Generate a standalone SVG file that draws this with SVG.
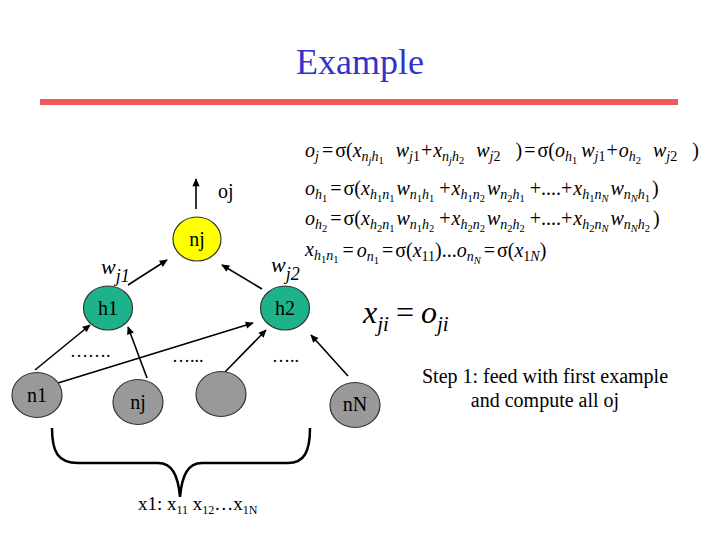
<svg xmlns="http://www.w3.org/2000/svg" width="720" height="540" viewBox="0 0 720 540">
<style>
text{font-family:"Liberation Serif","Times New Roman",serif;fill:#000}
.title{font-size:36px;fill:#3333cc}
.lbl{font-size:18px}
.nl{font-size:20px}
.eq{font-size:20px}
.v{font-style:italic}
.s{font-size:14px}
.ss{font-size:10.5px}
.yel{fill:#ffff00;stroke:#333;stroke-width:1.2}
.grn{fill:#1cb38b;stroke:#333;stroke-width:1.2}
.gry{fill:#999999;stroke:#333;stroke-width:1.2}
.con line{stroke:#000;stroke-width:1.6;marker-end:url(#ah)}
</style>
<defs>
<marker id="ah" viewBox="0 0 10 10" refX="9" refY="5" markerWidth="9" markerHeight="8" orient="auto" markerUnits="userSpaceOnUse"><path d="M0,0.5 L10,5 L0,9.5 z" fill="#000"/></marker>
</defs>
<rect width="720" height="540" fill="#fff"/>
<text class="title" x="360" y="74" text-anchor="middle">Example</text>
<rect x="40" y="99" width="638" height="6" fill="#f05a5a"/>

<g id="equations">
<text class="eq" x="305" y="157"><tspan class="v">o</tspan><tspan class="v s" dy="4">j</tspan><tspan dy="-4" dx="3">=</tspan><tspan dx="2">σ(</tspan><tspan class="v">x</tspan><tspan class="v s" dy="4">n</tspan><tspan class="v ss" dy="3">j</tspan><tspan class="v s" dy="-3">h</tspan><tspan class="ss" dy="3">1</tspan><tspan class="v" dy="-7" dx="12">w</tspan><tspan class="v s" dy="4">j</tspan><tspan class="s">1</tspan><tspan dy="-4" dx="1">+</tspan><tspan class="v" dx="1">x</tspan><tspan class="v s" dy="4">n</tspan><tspan class="v ss" dy="3">j</tspan><tspan class="v s" dy="-3">h</tspan><tspan class="ss" dy="3">2</tspan><tspan class="v" dy="-7" dx="12">w</tspan><tspan class="v s" dy="4">j</tspan><tspan class="s">2</tspan><tspan dy="-4" dx="15">)</tspan><tspan dx="2">=</tspan><tspan dx="2">σ(</tspan><tspan class="v">o</tspan><tspan class="v s" dy="4">h</tspan><tspan class="ss" dy="3">1</tspan><tspan class="v" dy="-7" dx="4">w</tspan><tspan class="v s" dy="4">j</tspan><tspan class="s">1</tspan><tspan dy="-4" dx="1">+</tspan><tspan class="v" dx="1">o</tspan><tspan class="v s" dy="4">h</tspan><tspan class="ss" dy="3">2</tspan><tspan class="v" dy="-7" dx="12">w</tspan><tspan class="v s" dy="4">j</tspan><tspan class="s">2</tspan><tspan dy="-4" dx="15">)</tspan></text>
<text class="eq" x="305" y="195"><tspan class="v">o</tspan><tspan class="v s" dy="4">h</tspan><tspan class="ss" dy="3">1</tspan><tspan dy="-7" dx="3">=</tspan><tspan dx="2">σ(</tspan><tspan class="v">x</tspan><tspan class="v s" dy="4">h</tspan><tspan class="ss" dy="3">1</tspan><tspan class="v s" dy="-3">n</tspan><tspan class="ss" dy="3">1</tspan><tspan class="v" dy="-7" dx="2">w</tspan><tspan class="v s" dy="4">n</tspan><tspan class="ss" dy="3">1</tspan><tspan class="v s" dy="-3">h</tspan><tspan class="ss" dy="3">1</tspan><tspan dy="-7" dx="5">+</tspan><tspan class="v" dx="1">x</tspan><tspan class="v s" dy="4">h</tspan><tspan class="ss" dy="3">1</tspan><tspan class="v s" dy="-3">n</tspan><tspan class="ss" dy="3">2</tspan><tspan class="v" dy="-7" dx="2">w</tspan><tspan class="v s" dy="4">n</tspan><tspan class="ss" dy="3">2</tspan><tspan class="v s" dy="-3">h</tspan><tspan class="ss" dy="3">1</tspan><tspan dy="-7" dx="5">+....+</tspan><tspan class="v" dx="1">x</tspan><tspan class="v s" dy="4">h</tspan><tspan class="ss" dy="3">1</tspan><tspan class="v s" dy="-3">n</tspan><tspan class="v ss" dy="3">N</tspan><tspan class="v" dy="-7" dx="2">w</tspan><tspan class="v s" dy="4">n</tspan><tspan class="v ss" dy="3">N</tspan><tspan class="v s" dy="-3">h</tspan><tspan class="ss" dy="3">1</tspan><tspan dy="-7" dx="2">)</tspan></text>
<text class="eq" x="305" y="225"><tspan class="v">o</tspan><tspan class="v s" dy="4">h</tspan><tspan class="ss" dy="3">2</tspan><tspan dy="-7" dx="3">=</tspan><tspan dx="2">σ(</tspan><tspan class="v">x</tspan><tspan class="v s" dy="4">h</tspan><tspan class="ss" dy="3">2</tspan><tspan class="v s" dy="-3">n</tspan><tspan class="ss" dy="3">1</tspan><tspan class="v" dy="-7" dx="2">w</tspan><tspan class="v s" dy="4">n</tspan><tspan class="ss" dy="3">1</tspan><tspan class="v s" dy="-3">h</tspan><tspan class="ss" dy="3">2</tspan><tspan dy="-7" dx="5">+</tspan><tspan class="v" dx="1">x</tspan><tspan class="v s" dy="4">h</tspan><tspan class="ss" dy="3">2</tspan><tspan class="v s" dy="-3">n</tspan><tspan class="ss" dy="3">2</tspan><tspan class="v" dy="-7" dx="2">w</tspan><tspan class="v s" dy="4">n</tspan><tspan class="ss" dy="3">2</tspan><tspan class="v s" dy="-3">h</tspan><tspan class="ss" dy="3">2</tspan><tspan dy="-7" dx="5">+....+</tspan><tspan class="v" dx="1">x</tspan><tspan class="v s" dy="4">h</tspan><tspan class="ss" dy="3">2</tspan><tspan class="v s" dy="-3">n</tspan><tspan class="v ss" dy="3">N</tspan><tspan class="v" dy="-7" dx="2">w</tspan><tspan class="v s" dy="4">n</tspan><tspan class="v ss" dy="3">N</tspan><tspan class="v s" dy="-3">h</tspan><tspan class="ss" dy="3">2</tspan><tspan dy="-7" dx="3">)</tspan></text>
<text class="eq" x="305" y="256"><tspan class="v">x</tspan><tspan class="v s" dy="4">h</tspan><tspan class="ss" dy="3">1</tspan><tspan class="v s" dy="-3">n</tspan><tspan class="ss" dy="3">1</tspan><tspan dy="-6" dx="4">=</tspan><tspan class="v" dx="3">o</tspan><tspan class="v s" dy="4">n</tspan><tspan class="ss" dy="3">1</tspan><tspan dy="-7" dx="3">=</tspan><tspan dx="2">σ(</tspan><tspan class="v">x</tspan><tspan class="s" dy="4">11</tspan><tspan dy="-4">)...</tspan><tspan class="v">o</tspan><tspan class="v s" dy="4">n</tspan><tspan class="v ss" dy="3">N</tspan><tspan dy="-7" dx="3">=</tspan><tspan dx="2">σ(</tspan><tspan class="v">x</tspan><tspan class="s" dy="4">1</tspan><tspan class="v s">N</tspan><tspan dy="-4">)</tspan></text>
<text x="363" y="323" style="font-size:32px;font-style:italic">x<tspan style="font-size:21px" dy="8">ji</tspan><tspan style="font-style:normal" dy="-8" dx="7">=</tspan><tspan dx="7">o</tspan><tspan style="font-size:21px" dy="8">ji</tspan></text>
</g>

<g class="con" id="connectors">
<line x1="196" y1="209" x2="196" y2="179"/>
<line x1="128" y1="285" x2="167" y2="260"/>
<line x1="262" y1="289" x2="222" y2="265"/>
<line x1="35" y1="370" x2="90" y2="325"/>
<line x1="58" y1="383" x2="253" y2="323"/>
<line x1="147" y1="378" x2="128" y2="327"/>
<line x1="225" y1="372" x2="266" y2="330"/>
<line x1="348" y1="376" x2="311" y2="335"/>
</g>

<text x="218" y="198" style="font-size:20px">oj</text>
<text x="101" y="274" style="font-size:22px;font-style:italic">w<tspan style="font-size:18px" dy="8">j1</tspan></text>
<text x="271" y="272" style="font-size:22px;font-style:italic">w<tspan style="font-size:18px" dy="8">j2</tspan></text>

<g id="node-nj-top"><ellipse class="yel" cx="197" cy="239" rx="24" ry="22"/><text class="nl" x="197" y="246" text-anchor="middle">nj</text></g>
<g id="node-h1"><ellipse class="grn" cx="108" cy="308" rx="24.5" ry="22"/><text class="nl" x="108" y="315" text-anchor="middle">h1</text></g>
<g id="node-h2"><ellipse class="grn" cx="285" cy="308" rx="24.5" ry="22"/><text class="nl" x="285" y="315" text-anchor="middle">h2</text></g>
<g id="node-n1"><ellipse class="gry" cx="37" cy="395" rx="25" ry="22.5"/><text class="nl" x="37" y="402" text-anchor="middle">n1</text></g>
<g id="node-nj"><ellipse class="gry" cx="138" cy="402" rx="25" ry="22.5"/><text class="nl" x="138" y="409" text-anchor="middle">nj</text></g>
<g id="node-n3"><ellipse class="gry" cx="221" cy="394" rx="25" ry="22.5"/></g>
<g id="node-nN"><ellipse class="gry" cx="355" cy="405" rx="25" ry="22.5"/><text class="nl" x="355" y="411" text-anchor="middle">nN</text></g>

<text class="lbl" x="70" y="357">…….</text>
<text class="lbl" x="172" y="362">…...</text>
<text class="lbl" x="272" y="362">…..</text>

<path d="M52,428 C52,452 58,463 78,463 L158,463 C172,463 178,475 180,497 C182,475 188,463 202,463 L288,463 C304,463 310,452 310,428" fill="none" stroke="#000" stroke-width="2.5"/>
<text x="138" y="510" style="font-size:19px">x1: x<tspan style="font-size:12px" dy="4">11</tspan><tspan dy="-4"> x</tspan><tspan style="font-size:12px" dy="4">12</tspan><tspan dy="-4">…x</tspan><tspan style="font-size:12px" dy="4">1N</tspan></text>

<text x="545" y="383" text-anchor="middle" style="font-size:20px">Step 1: feed with first example</text>
<text x="545" y="407" text-anchor="middle" style="font-size:20px">and compute all oj</text>
</svg>
